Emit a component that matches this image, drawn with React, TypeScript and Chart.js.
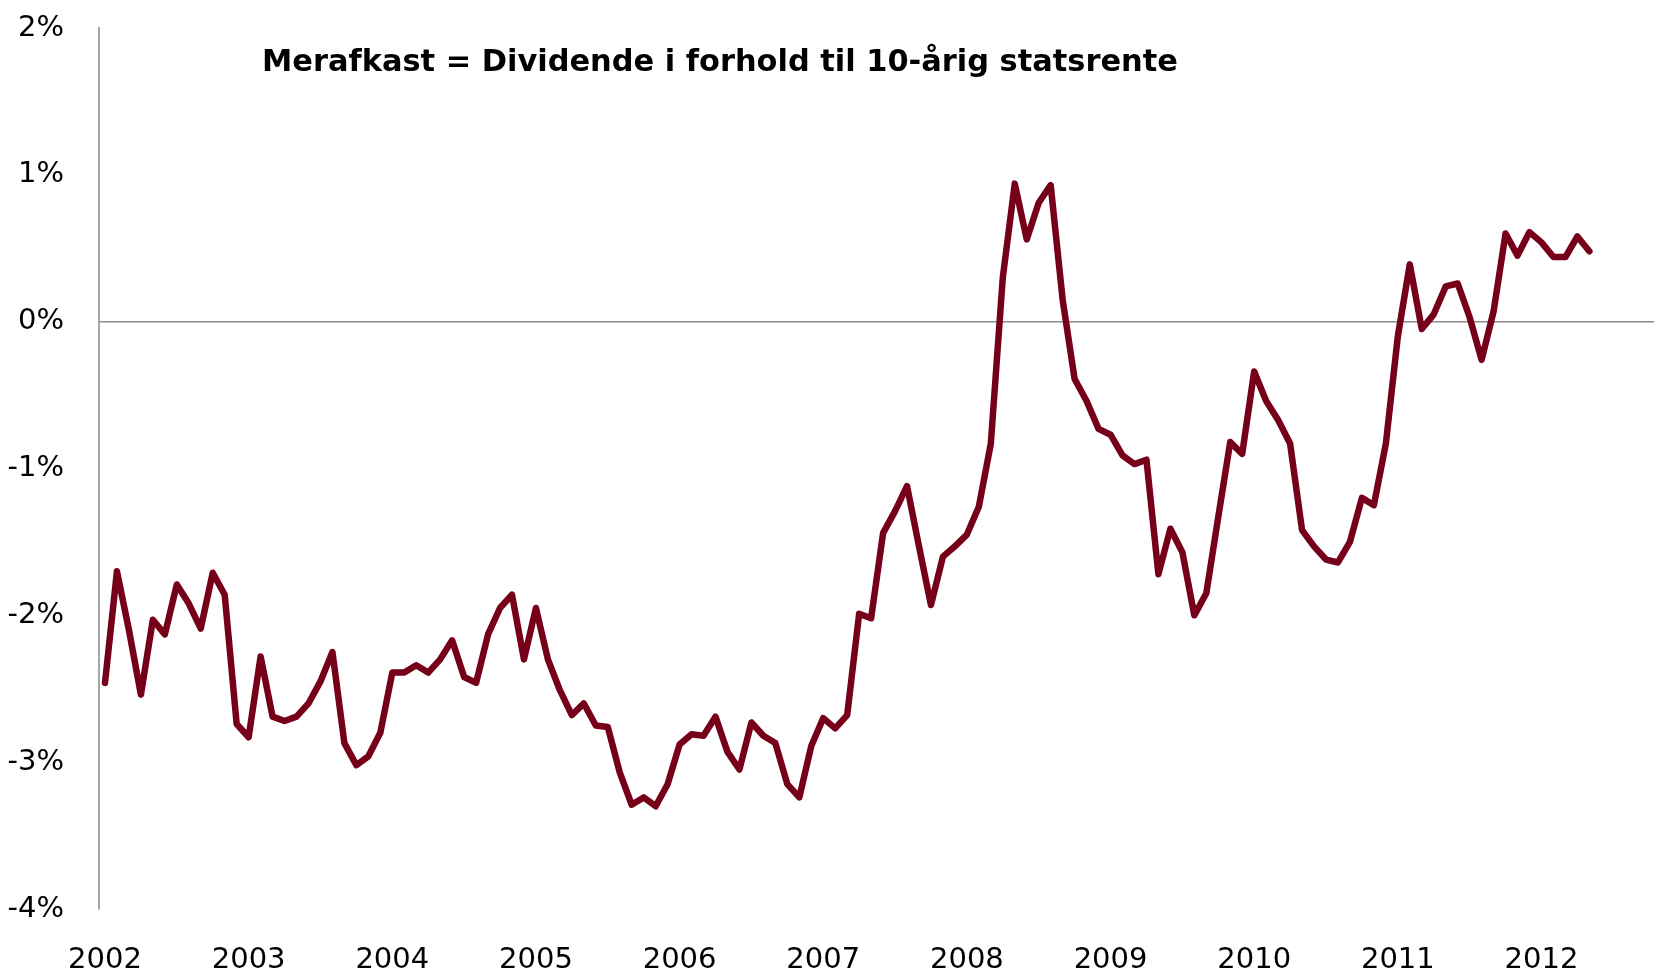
import React, { useEffect, useRef } from "react";
import { Chart, registerables } from "chart.js";

Chart.register(...registerables);

const TITLE = "Merafkast = Dividende i forhold til 10-årig statsrente";
const YEARS = ["2002", "2003", "2004", "2005", "2006", "2007", "2008", "2009", "2010", "2011", "2012"];
const Y_TICKS = [-4, -3, -2, -1, 0, 1, 2];

// Monthly excess return (%), Jan 2002 - May 2012
const VALUES_2002_2004 = [
  -2.46, -1.7, -2.1, -2.54, -2.03, -2.13, -1.79, -1.92, -2.09, -1.71, -1.86, -2.74,
  -2.83, -2.28, -2.69, -2.72, -2.69, -2.6, -2.45, -2.25, -2.87, -3.02, -2.96, -2.8,
  -2.39, -2.39, -2.34, -2.39, -2.3, -2.17, -2.42, -2.46, -2.13, -1.95, -1.86, -2.3,
];
const VALUES_2005_2007 = [
  -1.95, -2.3, -2.51, -2.68, -2.6, -2.75, -2.76, -3.07, -3.29, -3.24, -3.3, -3.15,
  -2.88, -2.81, -2.82, -2.69, -2.93, -3.05, -2.73, -2.82, -2.87, -3.15, -3.24, -2.89,
  -2.7, -2.77, -2.68, -1.99, -2.02, -1.44, -1.29, -1.12, -1.53, -1.93, -1.6, -1.53,
];
const VALUES_2008_2010 = [
  -1.45, -1.26, -0.83, 0.3, 0.94, 0.56, 0.81, 0.93, 0.15, -0.39, -0.54, -0.73,
  -0.77, -0.91, -0.97, -0.94, -1.72, -1.41, -1.57, -2.0, -1.85, -1.33, -0.82, -0.9,
  -0.34, -0.54, -0.67, -0.83, -1.42, -1.53, -1.62, -1.64, -1.5, -1.2, -1.25, -0.83,
];
const VALUES_2011_2012 = [
  -0.1, 0.39, -0.05, 0.05, 0.24, 0.26, 0.03, -0.26, 0.07, 0.6, 0.45, 0.61,
  0.54, 0.44, 0.44, 0.58, 0.48,
];

const VALUES = [...VALUES_2002_2004, ...VALUES_2005_2007, ...VALUES_2008_2010, ...VALUES_2011_2012];

const W = 1654;
const H = 974;

export default function App() {
  const ref = useRef<HTMLCanvasElement | null>(null);

  useEffect(() => {
    document.body.style.margin = "0";
    const canvas = ref.current;
    if (!canvas) return;

    const titlePlugin = {
      id: "innerTitle",
      afterDraw(chart: any) {
        const ctx = chart.ctx;
        ctx.save();
        ctx.fillStyle = "#000";
        ctx.textBaseline = "alphabetic";
        ctx.textAlign = "left";
        ctx.font = "bold 30px 'DejaVu Sans'";
        const w = ctx.measureText(TITLE).width;
        const size = (30 * 916) / w;
        ctx.font = `bold ${size.toFixed(2)}px 'DejaVu Sans'`;
        ctx.fillText(TITLE, 262, 71);
        ctx.restore();
      },
    };

    const bgPlugin = {
      id: "bg",
      beforeDraw(chart: any) {
        const ctx = chart.ctx;
        ctx.save();
        ctx.fillStyle = "#fff";
        ctx.fillRect(0, 0, chart.width, chart.height);
        ctx.restore();
      },
    };

    const chart = new Chart(canvas, {
      type: "line",
      data: {
        datasets: [
          {
            data: VALUES.map((v, i) => ({ x: i, y: v })),
            borderColor: "#76001a",
            borderWidth: 6.5,
            pointRadius: 0,
            tension: 0,
            borderJoinStyle: "round",
            borderCapStyle: "round",
            fill: false,
          },
        ],
      },
      options: {
        responsive: false,
        devicePixelRatio: 1,
        animation: false,
        layout: { padding: { top: 28, right: 0, bottom: 0, left: 0 } },
        plugins: {
          legend: { display: false },
          tooltip: { enabled: false },
          title: { display: false },
        },
        scales: {
          x: {
            type: "linear",
            min: -0.5,
            max: 129.4,
            afterBuildTicks: (scale: any) => {
              scale.ticks = YEARS.map((_, i) => ({ value: i * 12 }));
            },
            afterFit: (scale: any) => {
              scale.height = 65;
              scale.paddingLeft = 0;
              scale.paddingRight = 0;
            },
            grid: { display: false, drawTicks: false },
            border: { display: false },
            ticks: {
              autoSkip: false,
              maxRotation: 0,
              padding: 34,
              color: "#000",
              font: { family: "'DejaVu Sans'", size: 29 },
              callback: (_v: any, i: number) => YEARS[i],
            },
          },
          y: {
            type: "linear",
            min: -4,
            max: 2,
            afterBuildTicks: (scale: any) => {
              scale.ticks = Y_TICKS.map((v) => ({ value: v }));
            },
            afterFit: (scale: any) => {
              scale.width = 99;
              scale.paddingTop = 0;
              scale.paddingBottom = 0;
            },
            grid: {
              drawTicks: false,
              color: (c: any) => (c.tick && c.tick.value === 0 ? "#8c8c8c" : "rgba(0,0,0,0)"),
              lineWidth: 1.5,
            },
            border: { display: true, color: "#a6a6a6", width: 2 },
            ticks: {
              padding: 35,
              color: "#000",
              font: { family: "'DejaVu Sans'", size: 29 },
              callback: (v: any) => `${v}%`,
            },
          },
        },
      },
      plugins: [bgPlugin, titlePlugin],
    });

    return () => chart.destroy();
  }, []);

  return (
    <div style={{ position: "absolute", left: 0, top: 0, width: W, height: H }}>
      <canvas ref={ref} width={W} height={H} style={{ width: W, height: H, display: "block" }} />
    </div>
  );
}
